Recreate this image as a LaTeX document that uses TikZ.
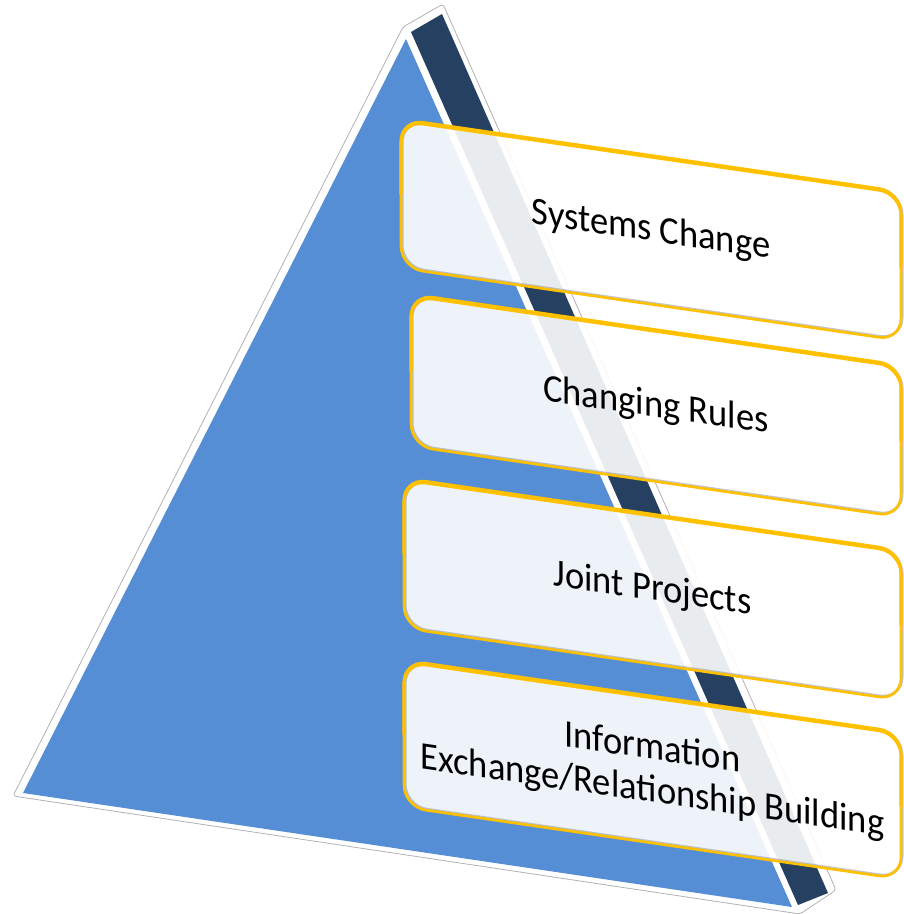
\documentclass[tikz,border=0pt]{standalone}
\usepackage{fontspec}
\setmainfont{Carlito}
\definecolor{pyrblue}{HTML}{558ED5}
\definecolor{pyrnavy}{HTML}{254061}
\definecolor{layergold}{HTML}{FFC000}
\tikzset{
  pyroutline/.style={fill=white, draw=black!30, line width=0.8, rounded corners=3, line join=round},
  boxfill/.style={fill=white, fill opacity=0.9, draw=none, rounded corners=22},
  boxshade/.style={draw=black!45, draw opacity=0.5, line width=3, rounded corners=22},
  boxline/.style={draw=layergold, line width=2.6, rounded corners=22},
  boxtop/.style={draw=layergold, line width=3.2, rounded corners=22},
  layertext/.style={transform shape, align=center, text=black, inner sep=0pt, yscale=1.07,
    font=\fontsize{36.5}{40}\selectfont}
}
\newcommand{\layerbox}[6]{%
  \begin{scope}[shift={(#2,#3)}, yslant=-0.145]
    \path[boxfill] (0,0) rectangle ({#4-#2},#5);
    \path[boxshade] (1,-1) rectangle ({#4-#2+1},{#5-1});
    \path[boxtop] (0,{#5/2}) -- (0,-1.6) -- ({#4-#2},-1.6) -- ({#4-#2},{#5/2});
    \path[boxline] (0,0) rectangle ({#4-#2},#5);
    \node[layertext] (#1) at ({(#4-#2)/2},{#5/2}) {#6};
  \end{scope}}
\begin{document}
\begin{tikzpicture}[x=1pt,y=-1pt]
\useasboundingbox (0,0) rectangle (904,914);
% pyramid
\path[pyroutline] (13,796) -- (403,27) -- (443,4) -- (836,890) -- (800,914) -- cycle;
\fill[pyrblue] (406,39) -- (23,793) -- (792,907) -- cycle;
\fill[pyrnavy] (411,32) -- (442,14) -- (828,893) -- (798,905) -- cycle;
% layers
\layerbox{sys}{401}{121}{901}{147}{Systems Change}
\layerbox{rules}{411}{296}{901}{150}{Changing Rules}
\layerbox{joint}{404}{480}{901}{148}{Joint Projects}
\layerbox{info}{404}{662}{901}{145}{Information\\Exchange/Relationship Building}
\end{tikzpicture}
\end{document}
